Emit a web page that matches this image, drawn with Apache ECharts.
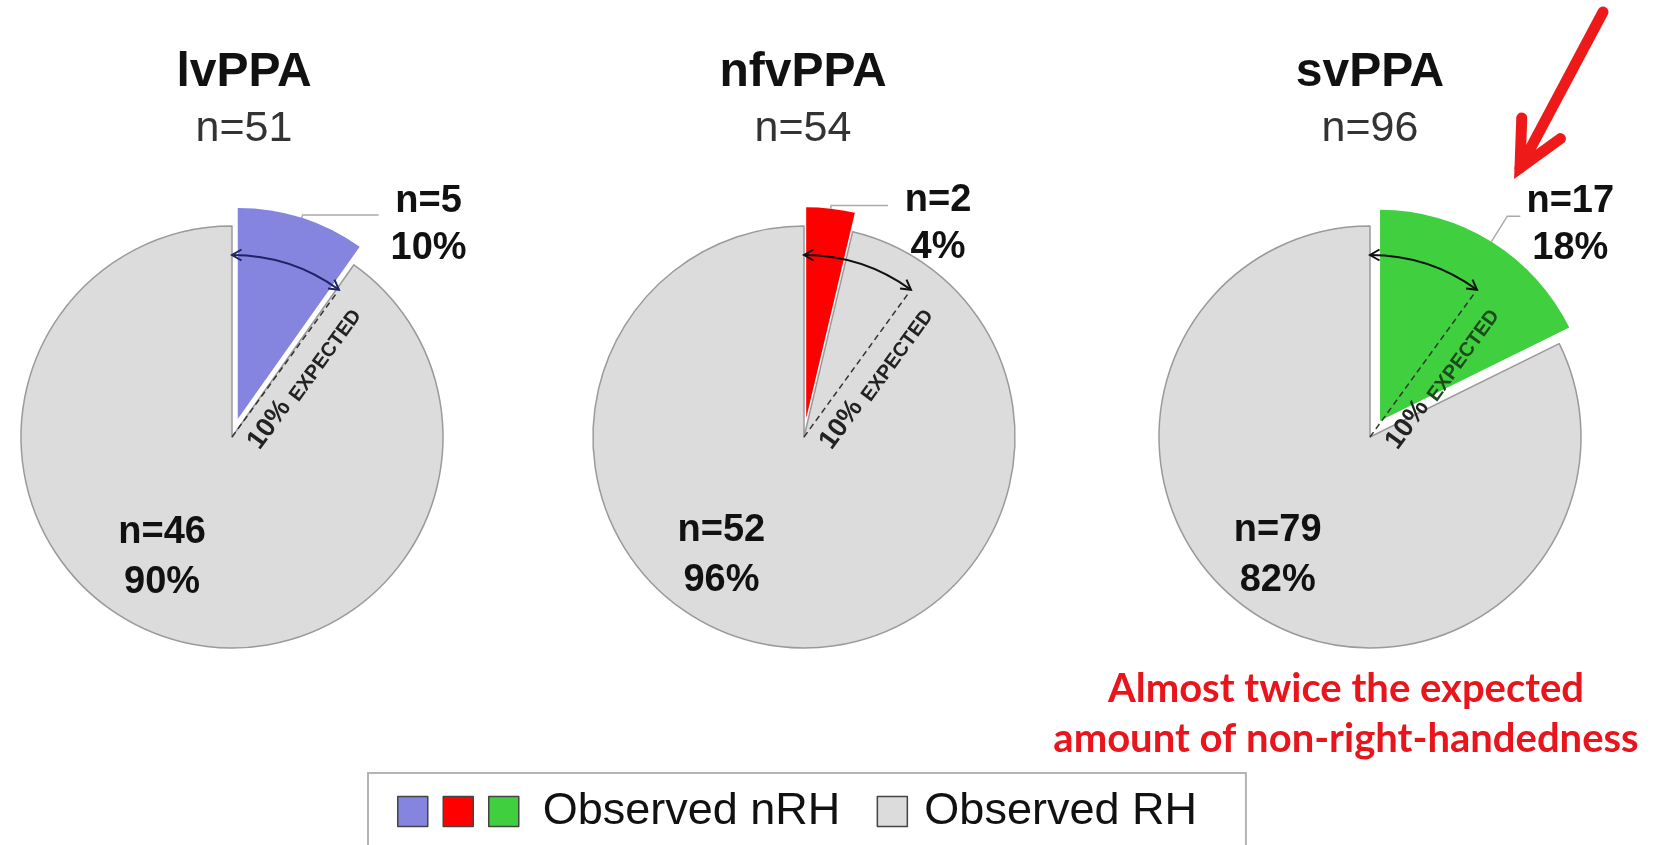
<!DOCTYPE html>
<html><head><meta charset="utf-8">
<script src="https://cdn.jsdelivr.net/npm/echarts@6/dist/echarts.min.js"></script>
<style>html,body{margin:0;padding:0;background:#fff}#c{width:1657px;height:845px}</style>
</head><body><div id="c"></div>
<script>
// ---- data ----
const groups = ['lvPPA', 'nfvPPA', 'svPPA'];
const totals = [51, 54, 96];
const nrhCounts = [5, 2, 17];
const rhCounts = [46, 52, 79];
const expectedShare = 0.10;
const expectedText = ['10%', 'EXPECTED'];
const legendLabels = ['Observed nRH', 'Observed RH'];
const noteLines = ['Almost twice the expected', 'amount of non-right-handedness'];

// ---- styling / layout ----
const FONT = "'Liberation Sans', Arial, sans-serif";
const nrhColors = ['#8585e0', '#ff0000', '#3fcf3f'];
const arcColors = ['#1c2466', '#111', '#111'];
const expTextColors = ['#222', '#222', '#1d4a1d'];
const RH_COLOR = '#dcdcdc';
const CX = [232, 804, 1370];
const TX = [244, 803, 1370];
const CY = 437;
const R = 211;
const RA = 182;
const OFFSET = 19;
const labelLine1 = [[3, 76], [3, 57], [30, 13]];
const labelPadTop = [20, 36, 17];
const insideShift = [[-37, 17], [-70, 11], [-35, 26]];
const nrhNames = groups.map(g => g + ' nRH');
const rhName = 'Observed RH';

const chart = echarts.init(document.getElementById('c'), null, {renderer: 'canvas'});

function fmt(p) { return '{v|n=' + p.value + '}\n{v|' + p.percent + '%}'; }

const series = groups.map((g, i) => ({
  type: 'pie',
  name: g,
  center: [CX[i], CY],
  radius: R,
  startAngle: 90,
  clockwise: true,
  selectedMode: 'single',
  selectedOffset: OFFSET,
  percentPrecision: 0,
  avoidLabelOverlap: false,
  animation: false,
  emphasis: {disabled: true},
  labelLayout: function (p) {
    if (p.dataIndex === 1) return {dx: insideShift[i][0], dy: insideShift[i][1]};
  },
  data: [
    {
      name: nrhNames[i], value: nrhCounts[i], selected: true,
      itemStyle: {color: nrhColors[i], borderWidth: 0},
      select: {itemStyle: {color: nrhColors[i], borderWidth: 0}},
      label: {
        show: true, position: 'outside', alignTo: 'none', distanceToLabelLine: 5,
        padding: [labelPadTop[i], 0, 0, 0],
        formatter: fmt,
        rich: {v: {fontSize: 38, fontWeight: 'bold', color: '#111', fontFamily: FONT, lineHeight: 47, width: 90, align: 'center'}}
      },
      labelLine: {show: true, length: labelLine1[i][0], length2: labelLine1[i][1], smooth: false,
        lineStyle: {color: '#aaa', width: 1.5}}
    },
    {
      name: rhName, value: rhCounts[i],
      itemStyle: {color: RH_COLOR, borderColor: '#9a9a9a', borderWidth: 1.5},
      label: {
        show: true, position: 'inside', formatter: fmt,
        rich: {v: {fontSize: 38, fontWeight: 'bold', color: '#111', fontFamily: FONT, lineHeight: 50, align: 'center'}}
      },
      labelLine: {show: false}
    }
  ]
}));

// ---- annotation graphics derived from pie geometry ----
const graphics = [];
function pt(cx, cy, r, deg) { const a = deg * Math.PI / 180; return [cx + r * Math.sin(a), cy - r * Math.cos(a)]; }
groups.forEach((g, i) => {
  const cx = CX[i], cy = CY;
  const th = expectedShare * 360;
  const end = pt(cx, cy, RA - 4, th);
  graphics.push({type: 'line', z: 100, shape: {x1: cx, y1: cy, x2: end[0], y2: end[1]},
    style: {stroke: '#333', lineWidth: 1.5, lineDash: [6, 4]}});
  const a0 = -Math.PI / 2, a1 = -Math.PI / 2 + th * Math.PI / 180;
  graphics.push({type: 'arc', z: 100, shape: {cx: cx, cy: cy, r: RA, startAngle: a0, endAngle: a1, clockwise: true},
    style: {stroke: arcColors[i], lineWidth: 2, fill: null}});
  // arrow heads
  const L = 11, spread = 30 * Math.PI / 180;
  [[a0, 1], [a1, -1]].forEach(([phi, dir]) => {
    const tip = [cx + RA * Math.cos(phi), cy + RA * Math.sin(phi)];
    const tx = -Math.sin(phi) * dir, ty = Math.cos(phi) * dir;
    const arms = [spread, -spread].map(s => [tip[0] + L * (tx * Math.cos(s) - ty * Math.sin(s)),
                                             tip[1] + L * (tx * Math.sin(s) + ty * Math.cos(s))]);
    graphics.push({type: 'polyline', z: 100, shape: {points: [arms[0], tip, arms[1]]},
      style: {stroke: arcColors[i], lineWidth: 2, fill: null}});
  });
  // rotated expected text, running along the expected boundary
  const t = th * Math.PI / 180;
  const ux = Math.sin(t), uy = -Math.cos(t), px = Math.cos(t), py = Math.sin(t);
  const parts = [{s: expectedText[0], along: 5, perp: 23, size: 27, color: '#222'},
                 {s: expectedText[1], along: 67, perp: 28, size: 20, color: expTextColors[i]}];
  parts.forEach(pp => {
    graphics.push({type: 'text', z: 101,
      x: cx + pp.along * ux + pp.perp * px, y: cy + pp.along * uy + pp.perp * py,
      rotation: Math.PI / 2 - t,
      style: {text: pp.s, align: 'left', verticalAlign: 'middle', fill: pp.color,
        font: 'bold ' + pp.size + 'px ' + FONT}});
  });
});
// red arrow
const aStart = [1603, 12], aTip = [1520, 168];
const sdx = aStart[0] - aTip[0], sdy = aStart[1] - aTip[1];
const sl = Math.hypot(sdx, sdy), ax = sdx / sl, ay = sdy / sl;
const AL = 50, as = 26 * Math.PI / 180;
const arm = s => [aTip[0] + AL * (ax * Math.cos(s) - ay * Math.sin(s)), aTip[1] + AL * (ax * Math.sin(s) + ay * Math.cos(s))];
graphics.push({type: 'polyline', z: 110, shape: {points: [aStart, aTip]}, style: {stroke: '#ee1a1a', lineWidth: 11, lineCap: 'round'}});
graphics.push({type: 'polyline', z: 110, shape: {points: [arm(-as), aTip, arm(as)]}, style: {stroke: '#ee1a1a', lineWidth: 11, lineCap: 'round', lineJoin: 'miter', fill: null}});
// red note
graphics.push({type: 'text', z: 110, x: 1346, y: 714,
  style: {text: noteLines.join('\n'), align: 'center', verticalAlign: 'middle', fill: '#e8161c',
    font: "bold 40px Lato, 'Liberation Sans', sans-serif", lineHeight: 50}});

chart.setOption({
  backgroundColor: '#fff',
  animation: false,
  title: groups.map((g, i) => ({
    text: g, subtext: 'n=' + totals[i], left: TX[i], top: 48, textAlign: 'center', padding: 0, itemGap: 9,
    textStyle: {fontSize: 48, fontWeight: 'bold', color: '#111', fontFamily: FONT, lineHeight: 50},
    subtextStyle: {fontSize: 43, color: '#333', fontFamily: FONT, lineHeight: 44}
  })),
  legend: {
    data: nrhNames.concat([rhName]),
    left: 368, top: 773, orient: 'horizontal',
    padding: [16, 49, 60, 29],
    borderColor: '#b4b4b4', borderWidth: 2,
    itemWidth: 30, itemHeight: 30, itemGap: 14,
    icon: 'rect', selectedMode: false,
    itemStyle: {borderColor: '#444', borderWidth: 1.5},
    formatter: function (name) {
      if (name === nrhNames[2]) return '{p|\u00a0}' + legendLabels[0] + '{q|\u00a0\u00a0}';
      if (name === rhName) return '{r|\u00a0}' + legendLabels[1];
      return '';
    },
    textStyle: {fontSize: 45, color: '#111', fontFamily: FONT,
      rich: {p: {width: 19}, q: {fontSize: 40}, r: {width: 12}}}
  },
  graphic: {elements: graphics},
  series: series
});
</script></body></html>
